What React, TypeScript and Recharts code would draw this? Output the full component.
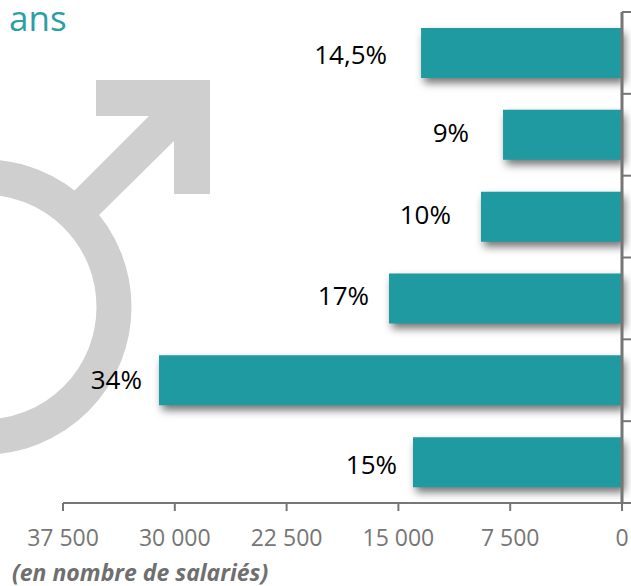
import { BarChart, Bar, XAxis, YAxis, LabelList } from 'recharts';

const CATEGORIES = ['a', 'b', 'c', 'd', 'e', 'f'];
const SALARIES = [13480, 7980, 9460, 15630, 31060, 14020];
const SHARES = ['14,5%', '9%', '10%', '17%', '34%', '15%'];
const X_TICKS = [0, 7500, 15000, 22500, 30000, 37500];

// the labels are hand placed in the original, gap to the bar end differs per bar
const LABEL_GAPS = [34, 34, 30, 20, 17, 16];
const LABEL_NUDGE_Y = [1, -3, -3, -4, -1, 2];

const TEAL = '#1e9aa0';
const GREY = '#767676';
const FONT = '"Open Sans", sans-serif';
const BAND_HEIGHT = 491 / 6;

const data = CATEGORIES.map((name, i) => ({ name, salaries: SALARIES[i], share: SHARES[i] }));

const formatTick = (v: number) => (v === 0 ? '0' : v.toLocaleString('fr-FR').replace(/\s/g, '\u00a0'));

// tick marks sit between the categories, not on them, and there is no text
function BandTick(props: any) {
  const { x, y, index } = props;
  const mark = (at: number) => <line x1={x} x2={x + 9} y1={at} y2={at} stroke={GREY} strokeWidth={2} />;
  return (
    <g>
      {mark(y - BAND_HEIGHT / 2)}
      {index === CATEGORIES.length - 1 && mark(y + BAND_HEIGHT / 2)}
    </g>
  );
}

function ShareLabel(props: any) {
  const { x, y, height, width, index, value } = props;
  // bars grow leftwards on the reversed axis
  const left = Math.min(x, x + width);
  return (
    <text
      x={left - LABEL_GAPS[index]}
      y={y + height / 2 + LABEL_NUDGE_Y[index]}
      textAnchor="end"
      dominantBaseline="central"
      fontFamily={FONT}
      fontSize={26}
      fill="#000"
    >
      {value}
    </text>
  );
}

function Backdrop() {
  return (
    <svg width={631} height={586} style={{ position: 'absolute', left: 0, top: 0 }}>
      <circle cx={-16} cy={307} r={130} fill="none" stroke="#cfcfcf" strokeWidth={35} />
      <polygon
        points="96,80 210,80 210,194 174,194 174,141 99,215 74,191 149,116 96,116"
        fill="#cfcfcf"
      />
      <text x={9} y={31} fontFamily={FONT} fontSize={35} fill="#2a9fa5">
        ans
      </text>
      <text x={12} y={581} fontFamily={FONT} fontSize={23} fontWeight={700} fontStyle="italic" fill="#6f6f6f">
        (en nombre de salariés)
      </text>
    </svg>
  );
}

export default function App() {
  return (
    <div style={{ position: 'absolute', left: 0, top: 0, width: 631, height: 586, overflow: 'hidden', background: '#fff' }}>
      <Backdrop />
      <div style={{ position: 'absolute', left: 0, top: 0 }}>
        <BarChart
          width={631}
          height={586}
          data={data}
          layout="vertical"
          margin={{ top: 12, right: 0, left: 63, bottom: 0 }}
        >
          <XAxis
            type="number"
            domain={[0, 37500]}
            ticks={X_TICKS}
            reversed
            height={83}
            interval={0}
            tickFormatter={formatTick}
            tick={{ fontSize: 23, fill: GREY, fontFamily: FONT }}
            tickSize={8}
            tickMargin={19}
            axisLine={{ stroke: GREY, strokeWidth: 2 }}
            tickLine={{ stroke: GREY, strokeWidth: 2 }}
          />
          <YAxis
            type="category"
            dataKey="name"
            orientation="right"
            interval={0}
            width={9}
            tick={BandTick}
            tickSize={0}
            tickMargin={0}
            tickLine={false}
            axisLine={{ stroke: GREY, strokeWidth: 3 }}
          />
          <Bar
            dataKey="salaries"
            fill={TEAL}
            barSize={50}
            isAnimationActive={false}
            style={{ filter: 'drop-shadow(3px 5px 4px rgba(0,0,0,0.55))' }}
          >
            <LabelList dataKey="share" content={ShareLabel} />
          </Bar>
        </BarChart>
      </div>
    </div>
  );
}
